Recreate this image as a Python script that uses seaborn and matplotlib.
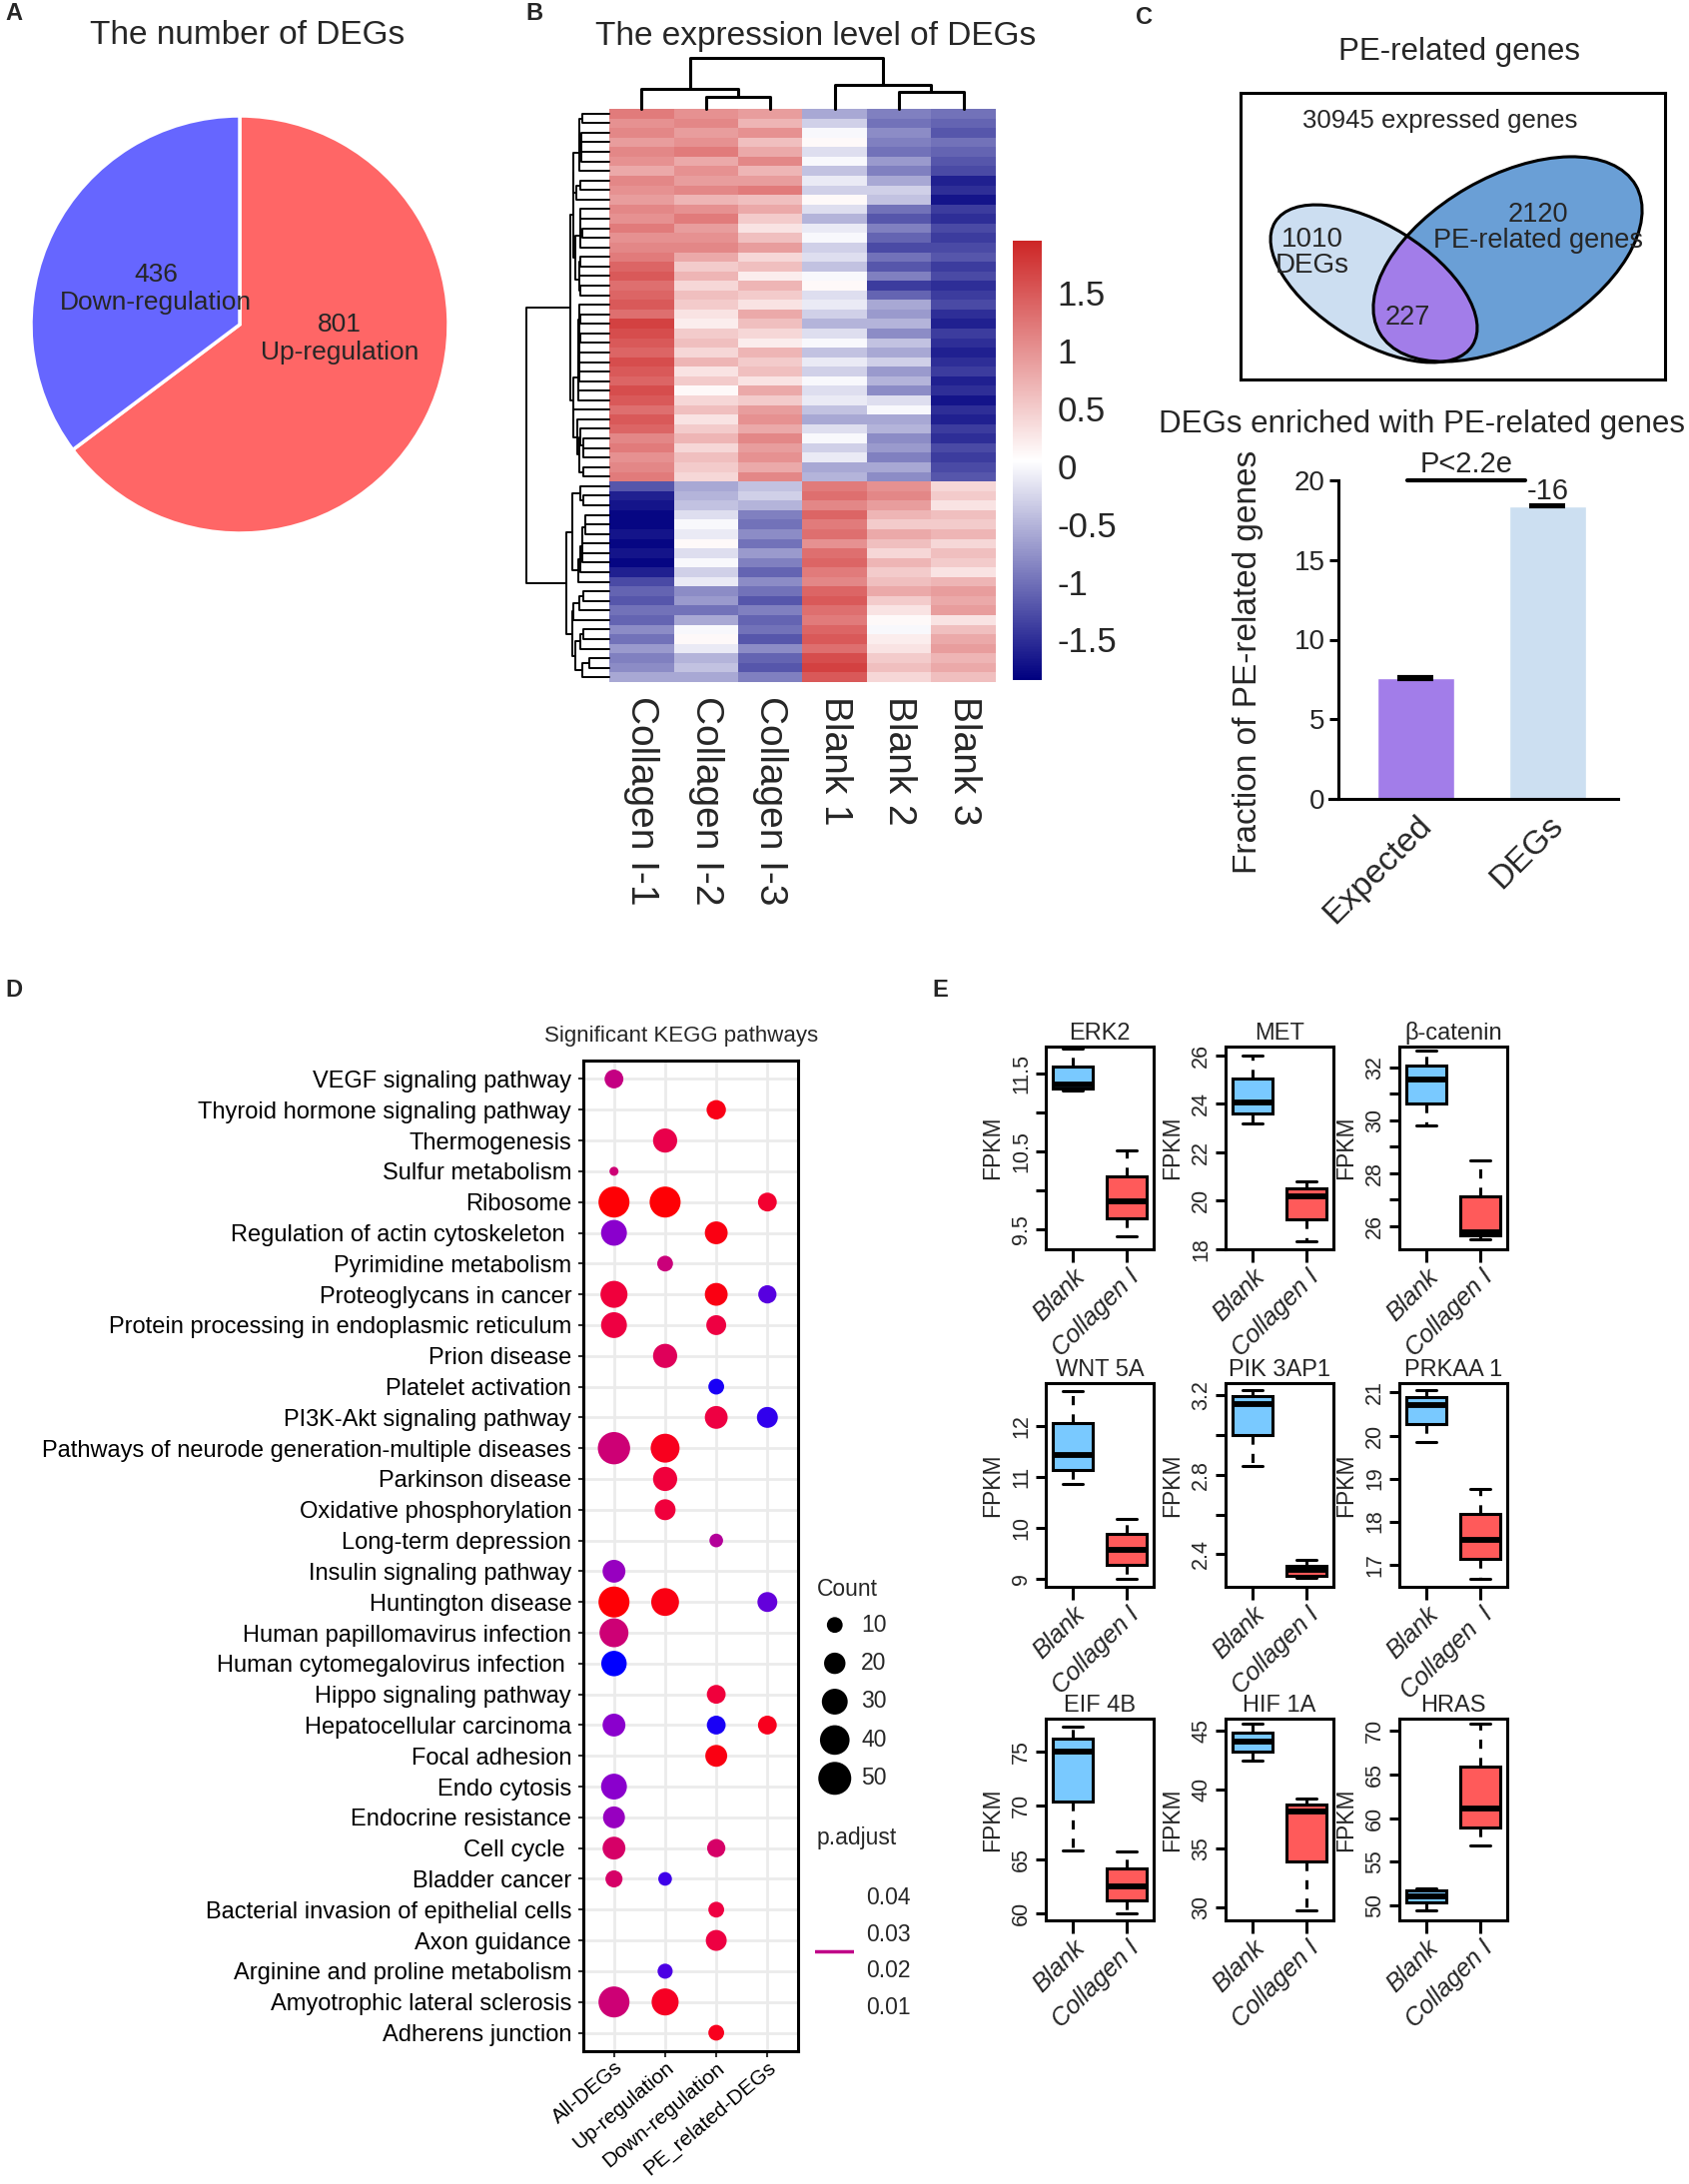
import numpy as np
import pandas as pd
import matplotlib
matplotlib.use("Agg")
import matplotlib.pyplot as plt
import seaborn as sns
from matplotlib.patches import Ellipse
from matplotlib.colors import LinearSegmentedColormap

NA = np.nan

# ---------------- Panel A data ----------------
deg_direction = ["Up-regulation", "Down-regulation"]
deg_number = [801, 436]
deg_colors = ["#FF6666", "#6666FF"]

# ---------------- Panel B data (row z-scores, top -> bottom) ----------------
heat_samples = ["Collagen I-1", "Collagen I-2", "Collagen I-3", "Blank 1", "Blank 2", "Blank 3"]
z_collagen_1 = [1.2, 1.0, 1.1, 0.9, 1.1, 1.0, 0.8, 1.1, 1.0, 0.9, 1.1, 1.0, 1.2, 1.0, 1.1, 1.2, 1.4, 1.5, 1.3, 1.4,
                1.5, 1.3, 1.7, 1.6, 1.5, 1.4, 1.6, 1.5, 1.4, 1.6, 1.5, 1.3, 1.5, 1.4, 1.1, 1.2, 1.0, 1.1, 1.2] + \
               [-1.2, -1.6, -1.7, -1.8, -1.8, -1.7, -1.8, -1.7, -1.8, -1.6, -1.3, -1.1, -1.2, -1.0, -1.1, -0.8, -1.0,
                -0.7, -0.9, -0.8, -0.6]
z_collagen_2 = [1.0, 1.1, 0.9, 1.0, 1.2, 0.8, 1.0, 0.9, 1.1, 0.7, 1.0, 1.2, 0.9, 1.0, 1.1, 0.8, 0.5, 0.7, 0.4, 0.6,
                0.5, 0.3, 0.2, 0.5, 0.6, 0.4, 0.7, 0.3, 0.5, 0.1, 0.4, 0.6, 0.3, 0.5, 0.7, 0.4, 0.6, 0.5, 0.4] + \
               [-0.6, -0.5, -0.4, -0.2, 0.0, -0.1, 0.1, -0.2, 0.0, -0.3, -0.1, -0.8, -0.7, -1.0, -0.6, 0.0, 0.1, -0.1,
                -0.5, -0.4, -0.6]
z_collagen_3 = [0.9, 0.7, 1.0, 0.6, 0.8, 1.1, 0.7, 0.9, 1.2, 0.6, 0.8, 0.5, 0.3, 0.6, 0.9, 0.4, 0.6, 0.2, 0.7, 0.5,
                0.3, 0.8, 0.6, 0.4, 0.2, 0.7, 0.5, 0.6, 0.3, 0.8, 0.5, 0.9, 1.0, 0.8, 1.1, 0.9, 1.0, 0.8, 1.1] + \
               [-0.4, -0.3, -0.5, -0.9, -1.0, -0.8, -1.0, -0.7, -0.9, -1.1, -0.8, -1.0, -1.2, -0.9, -1.1, -1.0, -1.2,
                -0.8, -1.1, -1.2, -0.9]
z_blank_1 = [-0.6, -0.3, 0.0, 0.1, -0.2, 0.0, -0.4, -0.1, -0.3, 0.1, -0.2, -0.5, -0.1, 0.0, -0.3, -0.2, -0.4, 0.0,
             0.1, -0.2, -0.1, -0.3, -0.5, -0.2, 0.0, -0.4, -0.1, -0.3, 0.0, -0.2, -0.1, -0.4, -0.6, -0.2, 0.0, -0.3,
             -0.1, -0.6, -0.5] + \
            [1.2, 1.3, 1.1, 1.4, 1.2, 1.3, 1.0, 1.3, 1.4, 1.2, 1.1, 1.4, 1.5, 1.3, 1.2, 1.4, 1.5, 1.3, 1.6, 1.7, 1.5]
z_blank_2 = [-0.9, -1.0, -0.8, -0.9, -1.0, -0.7, -0.9, -0.6, -0.3, -0.4, -1.0, -1.2, -0.9, -1.1, -1.3, -1.0, -1.2,
             -0.9, -1.4, -1.1, -0.6, -0.7, -0.5, -0.8, -0.4, -0.6, -0.3, -0.7, -0.5, -0.8, -0.2, 0.0, -0.6, -0.5,
             -0.8, -0.7, -0.9, -0.6, -0.8] + \
            [1.0, 1.1, 0.9, 0.7, 0.5, 0.8, 0.6, 0.4, 0.7, 0.5, 0.6, 0.8, 0.5, 0.3, 0.1, 0.0, 0.2, 0.3, 0.5, 0.6, 0.4]
z_blank_3 = [-1.0, -1.1, -1.2, -1.0, -1.1, -1.2, -1.3, -1.6, -1.5, -1.7, -1.4, -1.5, -1.3, -1.4, -1.3, -1.2, -1.4,
             -1.3, -1.5, -1.4, -1.3, -1.5, -1.6, -1.4, -1.5, -1.6, -1.5, -1.4, -1.6, -1.5, -1.7, -1.5, -1.6, -1.4,
             -1.5, -1.3, -1.4, -1.3, -1.2] + \
            [0.4, 0.5, 0.3, 0.6, 0.5, 0.7, 0.4, 0.6, 0.5, 0.3, 0.7, 0.9, 0.8, 0.9, 0.3, 0.6, 0.8, 0.9, 0.7, 0.8, 0.6]
# column clustering (node ids 6.. created in order)
col_link_left = [1, 4, 0, 3, 8]
col_link_right = [2, 5, 6, 7, 9]
col_link_height = [12, 17, 20, 24, 51]

# ---------------- Panel C data ----------------
venn_expressed = 30945
venn_degs = 1010
venn_pe = 2120
venn_overlap = 227
frac_groups = ["Expected", "DEGs"]
frac_values = [7.6, 18.4]
frac_errors = [0.06, 0.06]

# ---------------- Panel D data ----------------
kegg_pathways = [
    "VEGF signaling pathway", "Thyroid hormone signaling pathway", "Thermogenesis", "Sulfur metabolism",
    "Ribosome", "Regulation of actin cytoskeleton ", "Pyrimidine metabolism", "Proteoglycans in cancer",
    "Protein processing in endoplasmic reticulum", "Prion disease", "Platelet activation",
    "PI3K-Akt signaling pathway", "Pathways of neurode generation-multiple diseases", "Parkinson disease",
    "Oxidative phosphorylation", "Long-term depression", "Insulin signaling pathway", "Huntington disease",
    "Human papillomavirus infection", "Human cytomegalovirus infection ", "Hippo signaling pathway",
    "Hepatocellular carcinoma", "Focal adhesion", "Endo cytosis", "Endocrine resistance", "Cell cycle ",
    "Bladder cancer", "Bacterial invasion of epithelial cells", "Axon guidance",
    "Arginine and proline metabolism", "Amyotrophic lateral sclerosis", "Adherens junction"]
kegg_groups = ["All-DEGs", "Up-regulation", "Down-regulation", "PE_related-DEGs"]
count_all = [15, NA, NA, 2, 44, 30, NA, 33, 30, NA, NA, NA, 48, NA, NA, NA, 23, 44, 38, 29, NA, 23, NA, 30, 21, 23,
             12, NA, NA, NA, 44, NA]
padj_all = [0.024, NA, NA, 0.022, 0.001, 0.034, NA, 0.010, 0.011, NA, NA, NA, 0.022, NA, NA, NA, 0.032, 0.001,
            0.022, 0.045, NA, 0.034, NA, 0.034, 0.032, 0.019, 0.019, NA, NA, NA, 0.022, NA]
count_up = [NA, NA, 26, NA, 44, NA, 10, NA, NA, 26, NA, NA, 38, 26, 19, NA, NA, 35, NA, NA, NA, NA, NA, NA, NA, NA,
            7, NA, NA, 9, 33, NA]
padj_up = [NA, NA, 0.013, NA, 0.001, NA, 0.023, NA, NA, 0.016, NA, NA, 0.005, 0.010, 0.010, NA, NA, 0.003, NA, NA,
           NA, NA, NA, NA, NA, NA, 0.040, NA, NA, 0.039, 0.006, NA]
count_down = [NA, 16, NA, NA, NA, 23, NA, 23, 17, NA, 10, 23, NA, NA, NA, 7, NA, NA, NA, NA, 15, 15, 21, NA, NA, 14,
              NA, 10, 19, NA, NA, 10]
padj_down = [NA, 0.004, NA, NA, NA, 0.003, NA, 0.003, 0.011, NA, 0.043, 0.011, NA, NA, NA, 0.027, NA, NA, NA, NA,
             0.010, 0.043, 0.003, NA, NA, 0.019, NA, 0.011, 0.011, NA, NA, 0.005]
count_pe = [NA, NA, NA, NA, 15, NA, NA, 14, NA, NA, NA, 19, NA, NA, NA, NA, NA, 17, NA, NA, NA, 15, NA, NA, NA, NA,
            NA, NA, NA, NA, NA, NA]
padj_pe = [NA, NA, NA, NA, 0.008, NA, NA, 0.038, NA, NA, NA, 0.041, NA, NA, NA, NA, NA, 0.037, NA, NA, NA, 0.005,
           NA, NA, NA, NA, NA, NA, NA, NA, NA, NA]
legend_counts = [10, 20, 30, 40, 50]
legend_padj = [0.04, 0.03, 0.02, 0.01]

# ---------------- Panel E data (min, Q1, median, Q3, max) ----------------
gene_names = ["ERK2", "MET", "β-catenin", "WNT 5A", "PIK 3AP1", "PRKAA 1", "EIF 4B", "HIF 1A", "HRAS"]
blank_fpkm = [[11.28, 11.315, 11.36, 11.595, 11.82], [23.2, 23.59, 24.03, 25.05, 26.0],
              [29.8, 30.64, 31.54, 32.09, 32.65], [10.85, 11.13, 11.42, 12.05, 12.67],
              [2.845, 3.0, 3.155, 3.195, 3.225], [19.84, 20.27, 20.71, 20.89, 21.06],
              [65.87, 70.37, 75.0, 76.2, 77.38], [42.46, 43.25, 44.1, 44.86, 45.56],
              [49.43, 50.38, 51.06, 51.71, 51.9]]
collagen_fpkm = [[9.41, 9.64, 9.86, 10.18, 10.51], [18.33, 19.25, 20.18, 20.5, 20.79],
                 [25.5, 25.64, 25.76, 27.14, 28.48], [9.0, 9.28, 9.57, 9.88, 10.18],
                 [2.28, 2.291, 2.324, 2.341, 2.371], [16.67, 17.12, 17.57, 18.18, 18.76],
                 [60.0, 61.2, 62.44, 64.14, 65.74], [29.7, 33.87, 38.16, 38.73, 39.24],
                 [56.91, 58.92, 61.12, 65.94, 70.76]]
blank_label = "Blank"
collagen_labels = ["Collagen I", "Collagen I", "Collagen I", "Collagen I", "Collagen I", "Collagen  I",
                   "Collagen I", "Collagen I", "Collagen I"]
E_ylim = [(9.24, 11.85), (18.0, 26.35), (25.13, 32.79), (8.84, 12.835), (2.237, 3.259), (16.48, 21.22),
          (59.32, 78.09), (28.87, 46.02), (48.29, 71.37)]
E_ticks = [[9.5, 10, 10.5, 11, 11.5], [18, 20, 22, 24, 26], [26, 27, 28, 29, 30, 31, 32], [9, 10, 11, 12],
           [2.4, 2.6, 2.8, 3.0, 3.2], [17, 18, 19, 20, 21], [60, 65, 70, 75], [30, 35, 40, 45],
           [50, 55, 60, 65, 70]]
E_tick_labels = [["9.5", "", "10.5", "", "11.5"], ["18", "20", "22", "24", "26"],
                 ["26", "", "28", "", "30", "", "32"], ["9", "10", "11", "12"], ["2.4", "", "2.8", "", "3.2"],
                 ["17", "18", "19", "20", "21"], ["60", "65", "70", "75"], ["30", "35", "40", "45"],
                 ["50", "55", "60", "65", "70"]]

# ---------------- figure setup ----------------
sns.set_theme(style="white")
plt.rcParams["font.family"] = ["Liberation Sans", "DejaVu Sans"]
plt.rcParams["axes.unicode_minus"] = False

W, H = 1691, 2187
fig = plt.figure(figsize=(W / 100, H / 100), dpi=100)


def px_ax(l, t, r, b):
    return fig.add_axes([l / W, 1 - b / H, (r - l) / W, (b - t) / H])


def px_text(x, y, s, **kw):
    kw.setdefault("ha", "center")
    kw.setdefault("va", "center")
    fig.text(x / W, 1 - y / H, s, **kw)


for lab, x, y in [("A", 5, 14), ("B", 526, 14), ("C", 1137, 17), ("D", 5, 992), ("E", 933, 992)]:
    px_text(x, y, lab, fontsize=17, fontweight="bold", ha="left")

# ---------------- Panel A ----------------
axA = px_ax(31, 116, 449, 534)
axA.pie(deg_number, colors=deg_colors, startangle=90, counterclock=False,
        wedgeprops=dict(edgecolor="white", linewidth=2.5))
axA.set_xlim(-1.0, 1.0)
axA.set_ylim(-1.0, 1.0)
axA.text(0.478, -0.067, f"{deg_number[0]}\n{deg_direction[0]}", ha="center", va="center", fontsize=19)
axA.text(-0.40, 0.172, f"{deg_number[1]}\n{deg_direction[1]}", ha="center", va="center", fontsize=19)
px_text(248, 36, "The number of DEGs", fontsize=24)

# ---------------- Panel B ----------------
Z = pd.DataFrame(dict(zip(heat_samples, [z_collagen_1, z_collagen_2, z_collagen_3,
                                         z_blank_1, z_blank_2, z_blank_3])))
heat_cmap = LinearSegmentedColormap.from_list("nwf", ["#000080", "#FFFFFF", "#CD2626"])
hax = px_ax(610, 109, 997, 683)
cax = px_ax(1014, 241, 1043, 681)
sns.heatmap(Z, ax=hax, cmap=heat_cmap, vmin=-1.85, vmax=1.95, cbar_ax=cax, yticklabels=False)
hax.tick_params(axis="x", length=0, pad=10, labelsize=28)
plt.setp(hax.get_xticklabels(), rotation=270, ha="center", va="top")
hax.set_xlabel("")
cb_ticks = [1.5, 1, 0.5, 0, -0.5, -1, -1.5]
cax.set_yticks(cb_ticks)
cax.set_yticklabels([f"{t:g}" for t in cb_ticks])
cax.tick_params(length=0, labelsize=25, pad=11)
hax.collections[0].colorbar.outline.set_visible(False)


def order_preserving_linkage(X):
    n = len(X)
    members = [[i] for i in range(n)]
    ids = list(range(n))
    pos = {i: i + 0.5 for i in range(n)}
    hgt = {i: 0.0 for i in range(n)}
    links = []
    nid = n
    while len(members) > 1:
        best_d, best_k = None, None
        for k in range(len(members) - 1):
            a = X[members[k]]
            b = X[members[k + 1]]
            d = np.sqrt(((a[:, None, :] - b[None, :, :]) ** 2).sum(-1)).mean()
            if best_d is None or d < best_d:
                best_d, best_k = d, k
        k = best_k
        ia, ib = ids[k], ids[k + 1]
        h = max(best_d, hgt[ia], hgt[ib])
        links.append((ia, ib, h))
        pos[nid] = (pos[ia] + pos[ib]) / 2
        hgt[nid] = h
        members[k] = members[k] + members[k + 1]
        del members[k + 1]
        ids[k] = nid
        del ids[k + 1]
        nid += 1
    return links, pos, hgt


links, rpos, rhgt = order_preserving_linkage(Z.values)
rdax = px_ax(527, 109, 610, 683)
for a, b, h in links:
    rdax.plot([rhgt[a], h, h, rhgt[b]], [rpos[a], rpos[a], rpos[b], rpos[b]],
              color="black", lw=1.4, clip_on=False)
rdax.set_xscale("function", functions=(lambda v: np.sqrt(np.clip(v, 0, None)), lambda v: v ** 2))
rdax.set_xlim(max(rhgt.values()), 0)
rdax.set_ylim(len(Z), 0)
rdax.axis("off")

cpos = {i: i + 0.5 for i in range(6)}
chgt = {i: 0.0 for i in range(6)}
cdax = px_ax(610, 58, 997, 109)
for k, (a, b, h) in enumerate(zip(col_link_left, col_link_right, col_link_height)):
    cdax.plot([cpos[a], cpos[a], cpos[b], cpos[b]], [chgt[a], h, h, chgt[b]],
              color="black", lw=2.2, clip_on=False)
    cpos[6 + k] = (cpos[a] + cpos[b]) / 2
    chgt[6 + k] = h
cdax.set_xlim(0, 6)
cdax.set_ylim(0, max(col_link_height))
cdax.axis("off")
px_text(817, 36, "The expression level of DEGs", fontsize=24)

# ---------------- Panel C : Venn ----------------
px_text(1461, 52, "PE-related genes", fontsize=22.5)
vax = px_ax(1242, 93, 1667, 380)
vax.set_xlim(1242, 1667)
vax.set_ylim(380, 93)
vax.set_xticks([])
vax.set_yticks([])
for s in vax.spines.values():
    s.set_visible(True)
    s.set_linewidth(2.2)
    s.set_color("black")
deg_geom = dict(xy=(1375.5, 284), width=233, height=116, angle=32)
pe_geom = dict(xy=(1509.5, 259.5), width=296, height=164, angle=-30)
deg_e = Ellipse(**deg_geom, facecolor="#CCDEF1", edgecolor="none")
pe_e = Ellipse(**pe_geom, facecolor="#6A9FD6", edgecolor="none")
vax.add_patch(deg_e)
vax.add_patch(pe_e)
ov_e = Ellipse(**pe_geom, facecolor="#A27DE9", edgecolor="none")
vax.add_patch(ov_e)
ov_e.set_clip_path(deg_e)
vax.add_patch(Ellipse(**deg_geom, fill=False, edgecolor="black", linewidth=2.2))
vax.add_patch(Ellipse(**pe_geom, fill=False, edgecolor="black", linewidth=2.2))
vax.text(1442, 121, f"{venn_expressed} expressed genes", ha="center", va="center", fontsize=18.5)
vax.text(1314, 253, f"{venn_degs}\nDEGs", ha="center", va="center", fontsize=20, linespacing=1.0)
vax.text(1540, 228, f"{venn_pe}\nPE-related genes", ha="center", va="center", fontsize=19.5, linespacing=1.0)
vax.text(1409, 318, f"{venn_overlap}", ha="center", va="center", fontsize=19.5)

# ---------------- Panel C : bars ----------------
px_text(1423, 425, "DEGs enriched with PE-related genes", fontsize=22.5)
bax = px_ax(1331, 481, 1620, 800)
sns.barplot(x=frac_groups, y=frac_values, hue=frac_groups, palette=["#A27DE9", "#CCDFF1"], saturation=1,
            width=0.583, errorbar=None, legend=False, ax=bax)
bax.errorbar([0, 1], frac_values, yerr=frac_errors, fmt="none", ecolor="black", elinewidth=2.5,
             capsize=13, capthick=3)
bax.set_xlim(-0.655, 1.534)
bax.set_ylim(0, 20)
bax.spines["left"].set_position(("data", -0.587))
bax.spines["top"].set_visible(False)
bax.spines["right"].set_visible(False)
for s in ["left", "bottom"]:
    bax.spines[s].set_linewidth(2.2)
    bax.spines[s].set_color("black")
bax.set_yticks([0, 5, 10, 15, 20])
bax.tick_params(axis="y", left=True, length=6.5, width=2.2, labelsize=20, pad=3, color="black")
bax.tick_params(axis="x", length=0, labelsize=24, pad=8)
plt.setp(bax.get_xticklabels(), rotation=45, ha="right", rotation_mode="anchor")
bax.set_ylabel("Fraction of PE-related genes", fontsize=24)
bax.yaxis.set_label_coords(-0.228, 0.431)
bax.plot([-0.064, 0.83], [20, 20], color="black", lw=3, clip_on=False)
bax.text(0.383, 21.0, "P<2.2e", ha="center", va="center", fontsize=21)
bax.text(1.0, 19.3, "-16", ha="center", va="center", fontsize=21)

# ---------------- Panel D ----------------
rows = []
for gi, (cnts, pvs) in enumerate([(count_all, padj_all), (count_up, padj_up),
                                  (count_down, padj_down), (count_pe, padj_pe)]):
    for ri in range(len(kegg_pathways)):
        if not np.isnan(cnts[ri]):
            rows.append(dict(group=gi, pathway=ri, count=cnts[ri], padj=pvs[ri]))
kdf = pd.DataFrame(rows)
kegg_cmap = LinearSegmentedColormap.from_list("kegg", ["#FF0000", "#EE0044", "#CC0077", "#8E00CC", "#0000FF"])
size_range = ((6.3 / 1.389) ** 2, (33.0 / 1.389) ** 2)
px_text(682, 1037, "Significant KEGG pathways", fontsize=16)
dax = px_ax(584, 1062, 799, 2054)
sns.scatterplot(data=kdf, x="group", y="pathway", hue="padj", size="count", palette=kegg_cmap,
                hue_norm=(0, 0.045), sizes=size_range, size_norm=(0, 50), linewidth=0, legend=False,
                ax=dax, zorder=3)
dax.set_xlim(-0.6, 3.6)
dax.set_ylim(len(kegg_pathways) - 0.4, -0.6)
dax.set_xticks(range(len(kegg_groups)))
dax.set_xticklabels(kegg_groups)
dax.set_yticks(range(len(kegg_pathways)))
dax.set_yticklabels(kegg_pathways)
dax.set_xlabel("")
dax.set_ylabel("")
dax.grid(True, color="#EBEBEB", linewidth=2)
dax.set_axisbelow(True)
for s in dax.spines.values():
    s.set_linewidth(2.2)
    s.set_color("black")
dax.tick_params(axis="y", left=True, length=3.5, width=1.5, color="#333333",
                labelsize=17, labelcolor="black", pad=5)
dax.tick_params(axis="x", bottom=True, length=4, width=1.5, color="#333333",
                labelsize=15, labelcolor="black", pad=1)
plt.setp(dax.get_xticklabels(), rotation=40, ha="right", rotation_mode="anchor")

# Count legend
px_text(818, 1592, "Count", fontsize=16.5, ha="left")
lax = px_ax(812, 1608, 900, 1800)
sns.scatterplot(x=[0.27] * len(legend_counts), y=list(range(len(legend_counts))), size=legend_counts,
                sizes=size_range, size_norm=(0, 50), color="black", linewidth=0, legend=False, ax=lax)
for i, c in enumerate(legend_counts):
    lax.text(0.57, i, str(c), va="center", ha="left", fontsize=16.5)
lax.set_xlim(0, 1)
lax.set_ylim(len(legend_counts) - 0.5, -0.5)
lax.axis("off")

# p.adjust legend
px_text(818, 1840, "p.adjust", fontsize=16.5, ha="left")
pax = px_ax(816, 1880, 855, 2026)
pax.set_ylim(0.0051, 0.0449)
pax.set_xlim(0, 1)
pax.axhline(0.0247, color=kegg_cmap(0.0247 / 0.045), lw=2.5)
pax.yaxis.tick_right()
pax.set_yticks(legend_padj)
pax.set_yticklabels([f"{p:.2f}" for p in legend_padj])
pax.set_xticks([])
pax.tick_params(axis="y", length=0, pad=8.5, labelsize=16.5)
for s in pax.spines.values():
    s.set_visible(False)

# ---------------- Panel E ----------------
E_cols = [(1047, 1155), (1227, 1335), (1401, 1509)]
E_rows = [(1048, 1251), (1385, 1589), (1721, 1923)]
for g in range(len(gene_names)):
    r, c = divmod(g, 3)
    ax = px_ax(E_cols[c][0], E_rows[r][0], E_cols[c][1], E_rows[r][1])
    vals = blank_fpkm[g] + collagen_fpkm[g]
    grp = [blank_label] * len(blank_fpkm[g]) + [collagen_labels[g]] * len(collagen_fpkm[g])
    sns.boxplot(x=grp, y=vals, hue=grp, palette=["#79C9FF", "#FF5A5A"], saturation=1, width=0.74,
                whis=(0, 100), linewidth=2.2, linecolor="black", legend=False, ax=ax,
                medianprops=dict(linewidth=4.2), whiskerprops=dict(linestyle=(0, (3, 3))))
    ax.set_xlim(-0.5, 1.5)
    ax.set_ylim(*E_ylim[g])
    ax.set_yticks(E_ticks[g])
    ax.set_yticklabels(E_tick_labels[g])
    for s in ax.spines.values():
        s.set_visible(True)
        s.set_linewidth(2.2)
        s.set_color("black")
    ax.tick_params(axis="y", left=True, direction="out", length=7, width=2.2, color="black",
                   labelsize=15.5, pad=3)
    ax.tick_params(axis="x", bottom=True, direction="out", length=9.4, width=2.2, color="black",
                   labelsize=18, pad=2)
    plt.setp(ax.get_yticklabels(), rotation=90, va="center")
    plt.setp(ax.get_xticklabels(), rotation=45, ha="right", rotation_mode="anchor", fontstyle="italic")
    ax.set_xlabel("")
    ax.set_ylabel("FPKM", fontsize=16.5, labelpad=5)
    ax.set_title(gene_names[g], fontsize=17, pad=5)

fig.savefig("out.png", dpi=100)
